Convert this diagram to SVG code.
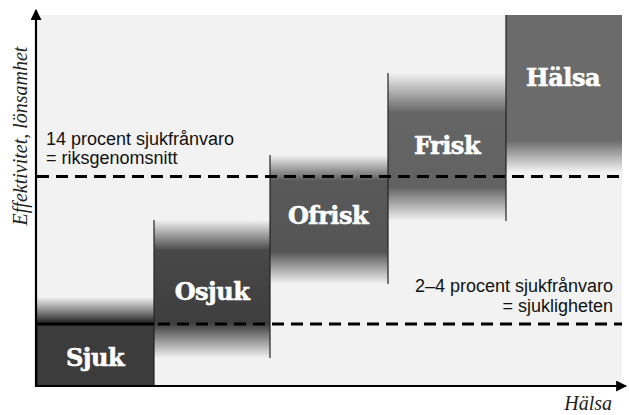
<svg xmlns="http://www.w3.org/2000/svg" width="629" height="415" viewBox="0 0 629 415">
<style>
.lbl{font-family:"DejaVu Serif",serif;font-weight:bold;font-size:24px;fill:#fff;stroke:#fff;stroke-width:0.6;text-anchor:middle;letter-spacing:-0.5px}
.note{font-family:"Liberation Sans",sans-serif;font-size:18px;fill:#111}
.ax{font-family:"Liberation Serif",serif;font-style:italic;font-size:20px;fill:#222}
.dash{stroke:#000;stroke-width:3;stroke-dasharray:12 7;fill:none}
.edge{stroke:#222;stroke-width:1.2}
</style>
<defs>
<linearGradient id="gSjuk" gradientUnits="userSpaceOnUse" x1="0" y1="297" x2="0" y2="386">
<stop offset="0" stop-color="#3c3c3c" stop-opacity="0"/>
<stop offset="0.28" stop-color="#2a2a2a" stop-opacity="1"/>
<stop offset="0.29" stop-color="#3c3c3c"/>
<stop offset="1" stop-color="#3c3c3c"/>
</linearGradient>
<linearGradient id="gOsjuk" gradientUnits="userSpaceOnUse" x1="0" y1="220" x2="0" y2="358">
<stop offset="0" stop-color="#484848" stop-opacity="0"/>
<stop offset="0.22" stop-color="#484848" stop-opacity="1"/>
<stop offset="0.75" stop-color="#3e3e3e" stop-opacity="1"/>
<stop offset="1" stop-color="#3e3e3e" stop-opacity="0"/>
</linearGradient>
<linearGradient id="gOfrisk" gradientUnits="userSpaceOnUse" x1="0" y1="155" x2="0" y2="284">
<stop offset="0" stop-color="#595959" stop-opacity="0"/>
<stop offset="0.2" stop-color="#595959" stop-opacity="1"/>
<stop offset="0.75" stop-color="#555555" stop-opacity="1"/>
<stop offset="1" stop-color="#555555" stop-opacity="0"/>
</linearGradient>
<linearGradient id="gFrisk" gradientUnits="userSpaceOnUse" x1="0" y1="73" x2="0" y2="221">
<stop offset="0" stop-color="#656565" stop-opacity="0"/>
<stop offset="0.27" stop-color="#656565" stop-opacity="1"/>
<stop offset="0.77" stop-color="#626262" stop-opacity="1"/>
<stop offset="1" stop-color="#626262" stop-opacity="0"/>
</linearGradient>
<linearGradient id="gHalsa" gradientUnits="userSpaceOnUse" x1="0" y1="15" x2="0" y2="172">
<stop offset="0" stop-color="#6b6b6b"/>
<stop offset="0.8" stop-color="#6b6b6b" stop-opacity="1"/>
<stop offset="1" stop-color="#6b6b6b" stop-opacity="0"/>
</linearGradient>
<marker id="arr" viewBox="0 0 10 10" refX="9" refY="5" markerWidth="5" markerHeight="5" orient="auto" markerUnits="strokeWidth">
<path d="M0,0 L10,5 L0,10 Z" fill="#000"/>
</marker>
</defs>
<rect x="0" y="0" width="629" height="415" fill="#fff"/>
<rect x="37" y="15" width="585" height="371" fill="#f2f2f2"/>

<g id="sjuk">
<rect x="37" y="297" width="117" height="89" fill="url(#gSjuk)"/>
<text class="lbl" x="95" y="366">Sjuk</text>
</g>
<g id="osjuk">
<rect x="154" y="220" width="116" height="138" fill="url(#gOsjuk)"/>
<text class="lbl" x="212" y="300">Osjuk</text>
</g>
<g id="ofrisk">
<rect x="270" y="155" width="118" height="129" fill="url(#gOfrisk)"/>
<text class="lbl" x="328" y="224">Ofrisk</text>
</g>
<g id="frisk">
<rect x="388" y="73" width="118" height="148" fill="url(#gFrisk)"/>
<text class="lbl" x="447" y="154">Frisk</text>
</g>
<g id="halsa">
<rect x="506" y="15" width="116" height="157" fill="url(#gHalsa)"/>
<text class="lbl" x="563" y="86">Hälsa</text>
</g>

<g id="connectors">
<line class="edge" x1="154" y1="220" x2="154" y2="386"/>
<line class="edge" x1="270" y1="155" x2="270" y2="358"/>
<line class="edge" x1="388" y1="73" x2="388" y2="284"/>
<line class="edge" x1="506" y1="15" x2="506" y2="221"/>
<line class="edge" x1="37" y1="323" x2="37" y2="386"/>
<line class="dash" x1="37" y1="176.5" x2="622" y2="176.5"/>
<line x1="37" y1="324" x2="154" y2="324" stroke="#000" stroke-width="3"/>
<line class="dash" x1="158" y1="324" x2="622" y2="324"/>
<line x1="36" y1="386" x2="36" y2="10" stroke="#000" stroke-width="2.2" marker-end="url(#arr)"/>
<line x1="35" y1="386" x2="626" y2="386" stroke="#000" stroke-width="2.2" marker-end="url(#arr)"/>
</g>

<g id="labels">
<text class="note" x="46" y="145">14 procent sjukfrånvaro</text>
<text class="note" x="46" y="164">= riksgenomsnitt</text>
<text class="note" x="613" y="292" text-anchor="end">2–4 procent sjukfrånvaro</text>
<text class="note" x="613" y="312" text-anchor="end">= sjukligheten</text>
<text class="ax" x="612" y="410" text-anchor="end">Hälsa</text>
<text class="ax" transform="translate(27,136) rotate(-90)" text-anchor="middle">Effektivitet, lönsamhet</text>
</g>
</svg>
